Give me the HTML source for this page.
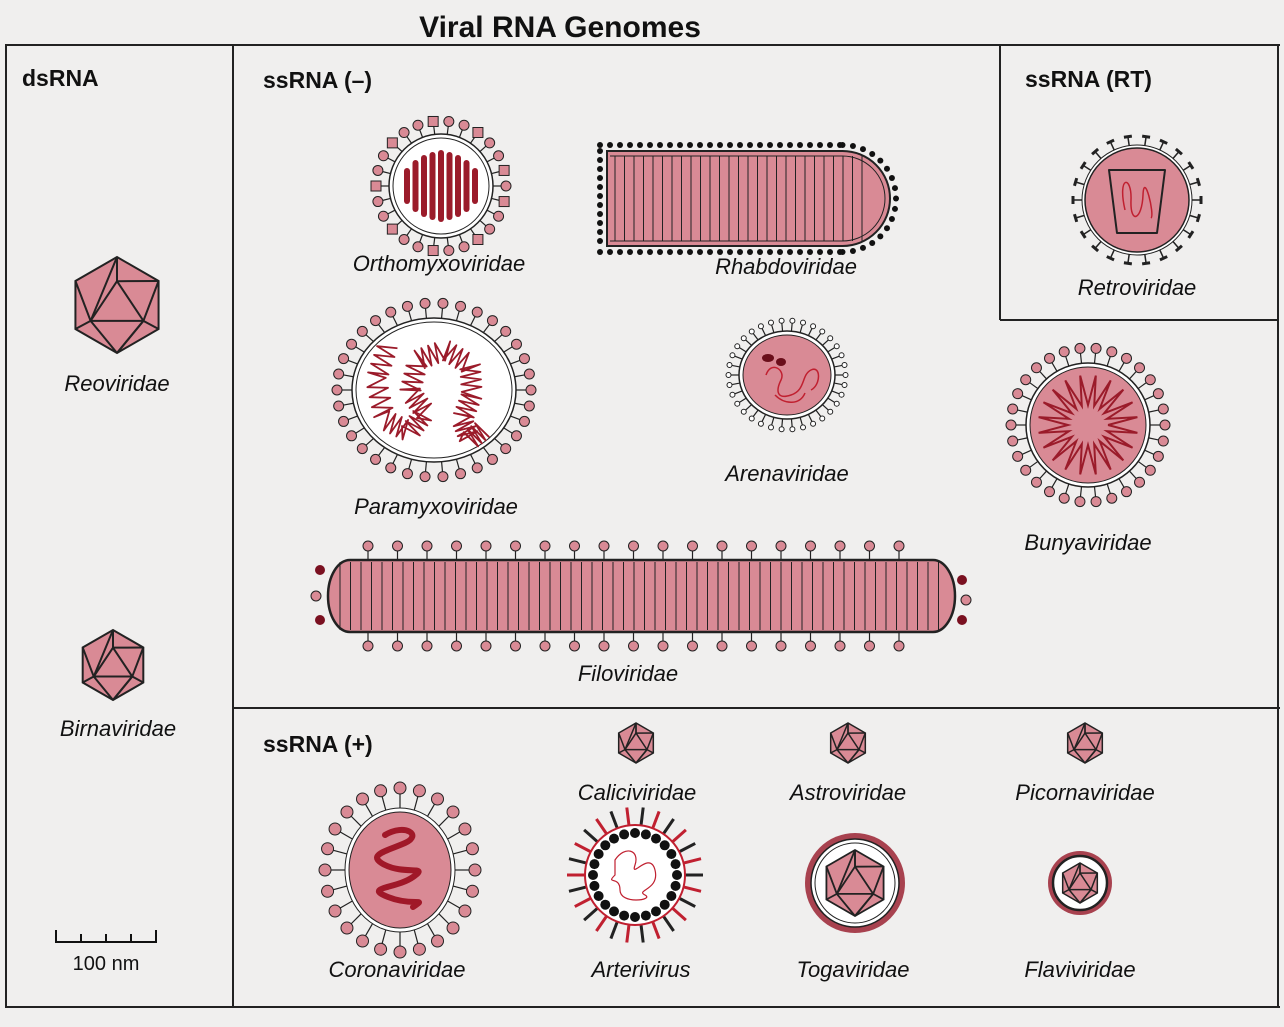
<!DOCTYPE html>
<html><head><meta charset="utf-8"><style>
html,body{margin:0;padding:0;background:#f0efee;}
svg{display:block}
text{font-family:"Liberation Sans",Arial,sans-serif;}
.h{font-weight:bold;font-size:23px;fill:#111}
.l{font-style:italic;font-size:22px;fill:#111;text-anchor:middle}
</style></head><body>
<svg id="s" width="1284" height="1027" viewBox="0 0 1284 1027" xmlns="http://www.w3.org/2000/svg">
<rect width="1284" height="1027" fill="#f0efee"/>
<g stroke="#222" stroke-width="2" fill="none">
<line x1="5" y1="45" x2="1280" y2="45"/>
<line x1="6" y1="45" x2="6" y2="1007"/>
<line x1="233" y1="45" x2="233" y2="1007"/>
<line x1="1278" y1="45" x2="1278" y2="1007"/>
<line x1="5" y1="1007" x2="1280" y2="1007"/>
<line x1="1000" y1="45" x2="1000" y2="320"/>
<line x1="1000" y1="320" x2="1278" y2="320"/>
<line x1="233" y1="708" x2="1280" y2="708"/>
</g>
<text x="560" y="37" text-anchor="middle" style="font-weight:bold;font-size:30px;fill:#111">Viral RNA Genomes</text>
<text class="h" x="22" y="86">dsRNA</text>
<text class="h" x="263" y="88">ssRNA (–)</text>
<text class="h" x="1025" y="87">ssRNA (RT)</text>
<text class="h" x="263" y="752">ssRNA (+)</text>
<text class="l" x="117" y="391">Reoviridae</text>
<text class="l" x="118" y="736">Birnaviridae</text>
<text class="l" x="439" y="271">Orthomyxoviridae</text>
<text class="l" x="786" y="274">Rhabdoviridae</text>
<text class="l" x="1137" y="295">Retroviridae</text>
<text class="l" x="436" y="514">Paramyxoviridae</text>
<text class="l" x="787" y="481">Arenaviridae</text>
<text class="l" x="1088" y="550">Bunyaviridae</text>
<text class="l" x="628" y="681">Filoviridae</text>
<text class="l" x="637" y="800">Caliciviridae</text>
<text class="l" x="848" y="800">Astroviridae</text>
<text class="l" x="1085" y="800">Picornaviridae</text>
<text class="l" x="397" y="977">Coronaviridae</text>
<text class="l" x="641" y="977">Arterivirus</text>
<text class="l" x="853" y="977">Togaviridae</text>
<text class="l" x="1080" y="977">Flaviviridae</text>
<g stroke="#111" stroke-width="2" fill="none">
<line x1="55" y1="942" x2="157" y2="942"/>
<line x1="56" y1="930" x2="56" y2="942"/><line x1="81" y1="934" x2="81" y2="942"/>
<line x1="106" y1="934" x2="106" y2="942"/><line x1="131" y1="934" x2="131" y2="942"/>
<line x1="156" y1="930" x2="156" y2="942"/>
</g>
<text x="106" y="970" text-anchor="middle" style="font-size:20px;fill:#111">100 nm</text>
<g id="g"></g>
</svg>
<script>
const NS="http://www.w3.org/2000/svg",G=document.getElementById('g');
const P="#d98a95",D="#9b1b2a",K="#222";
function el(t,a){const e=document.createElementNS(NS,t);for(const k in a)e.setAttribute(k,a[k]);G.appendChild(e);return e;}
function ico(cx,cy,r,sw){const pts=[];for(let i=0;i<6;i++){const a=Math.PI/3*i+Math.PI/6;pts.push([cx+r*Math.cos(a),cy+r*Math.sin(a)]);}
el('polygon',{points:pts.map(p=>p.join(',')).join(' '),fill:P,stroke:K,'stroke-width':sw});
const t=r*0.55;const tri=[[cx,cy-t*0.9],[cx-t,cy+t*0.6],[cx+t,cy+t*0.6]];
el('polygon',{points:tri.map(p=>p.join(',')).join(' '),fill:'none',stroke:K,'stroke-width':sw});
const top=[cx,cy-r];
[[tri[0],top],[tri[0],pts[5]],[tri[0],pts[4]],[tri[1],pts[4]],[tri[1],pts[3]],[tri[1],pts[2]],[tri[2],pts[1]],[tri[2],pts[0]],[tri[2],pts[5]],[tri[1],[cx,cy+r]],[tri[2],[cx,cy+r]]].forEach(([a,b])=>el('line',{x1:a[0],y1:a[1],x2:b[0],y2:b[1],stroke:K,'stroke-width':sw}));}
function spikes(cx,cy,rx,ry,n,len,hr,col,sq){for(let i=0;i<n;i++){const a=2*Math.PI*i/n,c=Math.cos(a),s=Math.sin(a);
const x1=cx+rx*c,y1=cy+ry*s,x2=cx+(rx+len)*c,y2=cy+(ry+len)*s;
el('line',{x1,y1,x2,y2,stroke:K,'stroke-width':1.2});
const hx=cx+(rx+len+hr)*c,hy=cy+(ry+len+hr)*s;
if(sq&&i%3==1)el('rect',{x:hx-hr,y:hy-hr,width:2*hr,height:2*hr,fill:P,stroke:K,'stroke-width':1});
else el('circle',{cx:hx,cy:hy,r:hr,fill:col||P,stroke:K,'stroke-width':1});}}
ico(117,305,48,2);ico(113,665,35,2);
// Orthomyxo
spikes(441,186,52,52,26,8,5,P,true);
el('circle',{cx:441,cy:186,r:52,fill:'#fff',stroke:K,'stroke-width':1.5});
el('circle',{cx:441,cy:186,r:48,fill:'none',stroke:K,'stroke-width':1});
for(let i=-4;i<=4;i++){const h=[36,52,62,68,72,68,62,52,36][i+4];el('rect',{x:441+i*8.5-3,y:186-h/2,width:6,height:h,rx:3,fill:D});}
// Rhabdo
(function(){const x0=607,x1=890,y0=151,y1=246,r=47.5;
for(let x=600;x<=840;x+=10){el('circle',{cx:x,cy:y0-6,r:3,fill:'#111'});el('circle',{cx:x,cy:y1+6,r:3,fill:'#111'});}
for(let y=y0;y<=y1;y+=9)el('circle',{cx:x0-7,cy:y,r:3,fill:'#111'});
for(let i=0;i<=16;i++){const a=-Math.PI/2+Math.PI*i/16;el('circle',{cx:x1-r+(r+6)*Math.cos(a),cy:(y0+y1)/2+(r+6)*Math.sin(a),r:3,fill:'#111'});}
el('path',{d:`M${x0},${y0} H${x1-r} A${r},${r} 0 0 1 ${x1-r},${y1} H${x0} Z`,fill:P,stroke:K,'stroke-width':2});
el('path',{d:`M${x0+3},${y0+5} H${x1-r} A${r-5},${r-5} 0 0 1 ${x1-r},${y1-5} H${x0+3}`,fill:'none',stroke:K,'stroke-width':1});
for(let x=x0+8;x<x1-r+20;x+=9.5)el('line',{x1:x,y1:y0+5,x2:x,y2:y1-5,stroke:K,'stroke-width':1});})();
// Retro
(function(){const cx=1137,cy=200,r=52;for(let i=0;i<22;i++){const a=2*Math.PI*i/22,c=Math.cos(a),s=Math.sin(a);
el('line',{x1:cx+r*c,y1:cy+r*s,x2:cx+(r+12)*c,y2:cy+(r+12)*s,stroke:K,'stroke-width':1.5});
el('line',{x1:cx+(r+12)*c-4*s,y1:cy+(r+12)*s+4*c,x2:cx+(r+12)*c+4*s,y2:cy+(r+12)*s-4*c,stroke:K,'stroke-width':3});}
el('circle',{cx,cy,r:r+3,fill:'#fff',stroke:K,'stroke-width':1});
el('circle',{cx,cy,r,fill:P,stroke:K,'stroke-width':1.5});
el('path',{d:`M${cx-28},${cy-30} L${cx+28},${cy-30} L${cx+20},${cy+33} L${cx-20},${cy+33} Z`,fill:'none',stroke:K,'stroke-width':2,'stroke-linejoin':'round'});
el('path',{d:`M${cx-12},${cy+10} C${cx-20},${cy-25} ${cx-5},${cy-25} ${cx-6},${cy} S${cx+5},${cy+20} ${cx+6},${cy-5} S${cx+18},${cy+15} ${cx+14},${cy+18}`,fill:'none',stroke:'#c02030','stroke-width':1.5});})();
// Paramyxo
spikes(434,390,82,72,34,10,5,P);
el('ellipse',{cx:434,cy:390,rx:82,ry:72,fill:'#fff',stroke:K,'stroke-width':1.5});
el('ellipse',{cx:434,cy:390,rx:78,ry:68,fill:'none',stroke:K,'stroke-width':1});
(function(){const pts=[[388,345],[376,380],[385,420],[410,432],[425,412],[410,392],[418,360],[445,350],[470,365],[472,395],[462,420],[470,440],[485,428]];
let d='';for(let s=0;s<pts.length-1;s++){const [ax,ay]=pts[s],[bx,by]=pts[s+1];for(let k=0;k<8;k++){const t=k/8,x=ax+(bx-ax)*t,y=ay+(by-ay)*t;const L=Math.hypot(bx-ax,by-ay),nx=-(by-ay)/L*10,ny=(bx-ax)/L*10;const sg=k%2?1:-1;d+=(s||k?'L':'M')+(x+nx*sg)+','+(y+ny*sg)+' ';}}
el('path',{d,stroke:D,'stroke-width':1.8,fill:'none','stroke-linejoin':'round'});})();
// Arena
spikes(787,375,48,44,34,8,2.5,'#fff');
el('ellipse',{cx:787,cy:375,rx:48,ry:44,fill:'#fff',stroke:K,'stroke-width':1.5});
el('ellipse',{cx:787,cy:375,rx:44,ry:40,fill:P,stroke:K,'stroke-width':1});
el('ellipse',{cx:768,cy:358,rx:6,ry:4,fill:'#6a0e1a'});el('ellipse',{cx:781,cy:362,rx:5,ry:4,fill:'#6a0e1a'});
el('path',{d:'M766,375 c5,-15 20,-5 15,5 s-5,20 10,15 s10,-20 20,-25 s10,15 0,20',fill:'none',stroke:'#c02030','stroke-width':1.5});
el('path',{d:'M775,395 c10,10 25,10 30,-2',fill:'none',stroke:'#c02030','stroke-width':1.5});
// Bunya
spikes(1088,425,62,62,30,10,5,P);
el('circle',{cx:1088,cy:425,r:62,fill:'#fff',stroke:K,'stroke-width':1.5});
el('circle',{cx:1088,cy:425,r:58,fill:P,stroke:K,'stroke-width':1});
(function(){let d='';const n=40;for(let i=0;i<=n;i++){const a=2*Math.PI*i/n,rr=i%2?50:20;d+=(i?'L':'M')+(1088+rr*Math.cos(a))+','+(425+rr*Math.sin(a));}el('path',{d,fill:'none',stroke:D,'stroke-width':2});})();
// Filo
(function(){const x0=328,x1=955,y0=560,y1=632;
for(let x=368;x<=915;x+=29.5){el('line',{x1:x,y1:y0,x2:x,y2:y0-10,stroke:K,'stroke-width':1.2});el('circle',{cx:x,cy:y0-14,r:5,fill:P,stroke:K,'stroke-width':1});
el('line',{x1:x,y1:y1,x2:x,y2:y1+10,stroke:K,'stroke-width':1.2});el('circle',{cx:x,cy:y1+14,r:5,fill:P,stroke:K,'stroke-width':1});}
el('circle',{cx:320,cy:570,r:5,fill:'#7a1020'});el('circle',{cx:320,cy:620,r:5,fill:'#7a1020'});el('circle',{cx:316,cy:596,r:5,fill:P,stroke:K});
el('circle',{cx:962,cy:580,r:5,fill:'#7a1020'});el('circle',{cx:962,cy:620,r:5,fill:'#7a1020'});el('circle',{cx:966,cy:600,r:5,fill:P,stroke:K});
el('rect',{x:x0,y:y0,width:x1-x0,height:y1-y0,rx:22,ry:36,fill:P,stroke:K,'stroke-width':2.5});
for(let x=x0+12;x<x1-8;x+=10.5)el('line',{x1:x,y1:y0+2,x2:x,y2:y1-2,stroke:K,'stroke-width':1});})();
ico(636,743,20,1.5);ico(848,743,20,1.5);ico(1085,743,20,1.5);
// Corona
spikes(400,870,55,62,24,14,6,P);
el('ellipse',{cx:400,cy:870,rx:55,ry:62,fill:'#fff',stroke:K,'stroke-width':1});
el('ellipse',{cx:400,cy:870,rx:51,ry:58,fill:P,stroke:K,'stroke-width':1});
el('path',{d:'M385,835 c20,-12 38,0 20,8 s-40,12 -20,22 s45,0 28,12 s-50,10 -25,20 s40,0 25,10',fill:'none',stroke:'#a01828','stroke-width':6,'stroke-linecap':'round'});
// Arteri
(function(){const cx=635,cy=875,r=50;for(let i=0;i<26;i++){const a=2*Math.PI*i/26,c=Math.cos(a),s=Math.sin(a);
el('line',{x1:cx+r*c,y1:cy+r*s,x2:cx+(r+18)*c,y2:cy+(r+18)*s,stroke:i%2?'#c02030':K,'stroke-width':3});}
el('circle',{cx,cy,r,fill:'#fff',stroke:'#c02030','stroke-width':2});
for(let i=0;i<24;i++){const a=2*Math.PI*i/24;el('circle',{cx:cx+42*Math.cos(a),cy:cy+42*Math.sin(a),r:5,fill:'#111'});}
el('path',{d:`M${cx-20},${cy-15} c10,-15 25,-10 20,5 s15,-15 20,5 s-20,20 -10,25 s-25,10 -25,-5 s-15,-5 -5,-15 z`,fill:'none',stroke:'#c02030','stroke-width':1.2});})();
// Toga
el('circle',{cx:855,cy:883,r:50,fill:'#a8424f'});el('circle',{cx:855,cy:883,r:44,fill:'#fff',stroke:K,'stroke-width':1.5});el('circle',{cx:855,cy:883,r:40,fill:'none',stroke:K,'stroke-width':1});ico(855,883,33,1.8);
// Flavi
el('circle',{cx:1080,cy:883,r:32,fill:'#a8424f'});el('circle',{cx:1080,cy:883,r:27,fill:'#fff',stroke:K,'stroke-width':2.5});ico(1080,883,20,1.5);
</script>
</body></html>
